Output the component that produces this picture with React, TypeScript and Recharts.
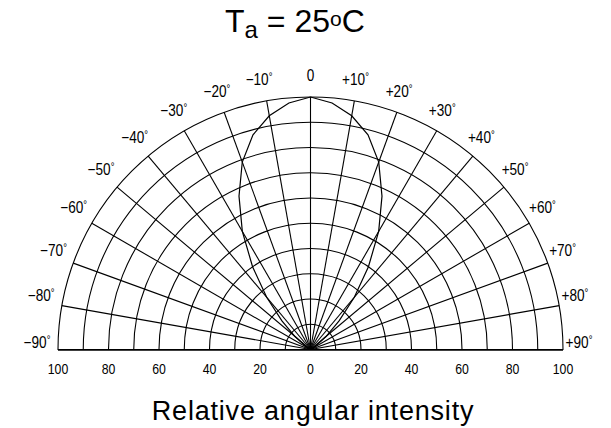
import React from 'react';
import {
  RadarChart,
  Radar,
  PolarGrid,
  PolarAngleAxis,
  PolarRadiusAxis,
  ComposedChart,
  XAxis,
} from 'recharts';

// ---- data ----
const angles = [
  -90, -85, -80, -75, -70, -65, -60, -55, -50, -45, -40, -35, -30, -25, -20, -15, -10, -5,
  0, 5, 10, 15, 20, 25, 30, 35, 40, 45, 50, 55, 60, 65, 70, 75, 80, 85, 90,
];
const intensity = [
  0, 0, 0, 0, 0, 0, 1, 3, 8, 16, 27, 40, 54, 67, 79, 88, 94, 98,
  100, 98, 94, 88, 79, 67, 54, 40, 27, 16, 8, 3, 1, 0, 0, 0, 0, 0, 0,
];
const angleTicks = [-90, -80, -70, -60, -50, -40, -30, -20, -10, 0, 10, 20, 30, 40, 50, 60, 70, 80, 90];
const ringTicks = [0, 10, 20, 30, 40, 50, 60, 70, 80, 90, 100];
const scaleTicks = [-100, -80, -60, -40, -20, 0, 20, 40, 60, 80, 100];

const data = angles.map((a, i) => ({ angle: a, intensity: intensity[i] }));
const scaleData = scaleTicks.map((v) => ({ x: v }));

const SANS = "'Liberation Sans', Arial, Helvetica, sans-serif";

const PW = 611;
const PH = 428;
const CX = 310.5;
const CY = 349.5;
const R = 252.5;

const AngleTick = (props: any) => {
  const { x, y, payload } = props;
  const v = payload.value as number;
  const s = Math.sin((v * Math.PI) / 180);
  const lift = 6.5 * s * s;
  const shiftX = v > 0 ? -5 * Math.min(1, v / 20) : v === -10 ? -4 : 0;
  const num = v === 0 ? '0' : `${v < 0 ? '\u2212' : '+'}${Math.abs(v)}`;
  return (
    <g transform={`translate(${x + shiftX},${y - lift}) scale(0.85,1)`}>
      <text
        x={0}
        y={0}
        textAnchor="middle"
        dominantBaseline="central"
        fontFamily={SANS}
        fontSize={16}
        fill="#000"
      >
        {num}
        {v !== 0 && (
          <tspan fontSize={11} dy={-4}>
            °
          </tspan>
        )}
      </text>
    </g>
  );
};

const ScaleTick = (props: any) => {
  const { x, y, payload } = props;
  const v = payload.value as number;
  return (
    <g transform={`translate(${x},${y}) scale(0.82,1)`}>
      <text x={0} y={0} dy="0.71em" textAnchor="middle" fontFamily={SANS} fontSize={15} fill="#000">
        {String(Math.abs(v))}
      </text>
    </g>
  );
};

export default function App() {
  return (
    <div style={{ position: 'relative', width: 603, height: 420 }}>
      <div style={{ position: 'absolute', left: -8, top: -8, width: PW, height: PH, background: '#fff' }}>
        <svg style={{ position: 'absolute', left: 0, top: 0 }} width={PW} height={60}>
          <text x={225} y={32} fontSize={32} fontFamily={SANS} fill="#000">
            T
            <tspan fontSize={24} dy={6}>
              a
            </tspan>
            <tspan dy={-6}> = 25</tspan>
            <tspan fontSize={21} dy={-6.5}>
              o
            </tspan>
            <tspan dy={6.5}>C</tspan>
          </text>
        </svg>

        <div style={{ position: 'absolute', left: 0, top: 0, width: PW, height: CY + 0.75, overflow: 'hidden' }}>
          <RadarChart
            width={PW}
            height={PH}
            data={data}
            cx={CX}
            cy={CY}
            innerRadius={0}
            outerRadius={R}
            startAngle={180}
            endAngle={0}
            margin={{ top: 0, right: 0, bottom: 0, left: 0 }}
          >
            <PolarGrid gridType="circle" stroke="#000" strokeWidth={1.1} />
            <PolarAngleAxis
              type="number"
              dataKey="angle"
              domain={[-90, 90]}
              ticks={angleTicks}
              tick={<AngleTick />}
              tickLine={false}
              tickSize={21}
              axisLine={false}
            />
            <PolarRadiusAxis
              type="number"
              domain={[0, 100]}
              ticks={ringTicks}
              tick={false}
              axisLine={false}
              tickLine={false}
            />
            <Radar
              dataKey="intensity"
              stroke="#000"
              strokeWidth={1.2}
              fill="none"
              fillOpacity={0}
              dot={false}
              isAnimationActive={false}
            />
          </RadarChart>
        </div>

        <div style={{ position: 'absolute', left: 0, top: CY - 10, width: PW, height: 70 }}>
          <ComposedChart
            width={PW}
            height={70}
            data={scaleData}
            margin={{ top: 0, right: PW - (CX + R), bottom: 0, left: CX - R }}
          >
            <XAxis
              dataKey="x"
              type="number"
              domain={[-100, 100]}
              ticks={scaleTicks}
              height={60}
              axisLine={{ stroke: '#000', strokeWidth: 1.5 }}
              tickLine={false}
              tickSize={6}
              tickMargin={7.5}
              tick={<ScaleTick />}
              interval={0}
            />
          </ComposedChart>
        </div>

        <svg style={{ position: 'absolute', left: 0, top: 388 }} width={PW} height={40}>
          <text
            x={313}
            y={32}
            textAnchor="middle"
            fontSize={27}
            letterSpacing={0.8}
            fontFamily={SANS}
            fill="#000"
          >
            Relative angular intensity
          </text>
        </svg>
      </div>
    </div>
  );
}
